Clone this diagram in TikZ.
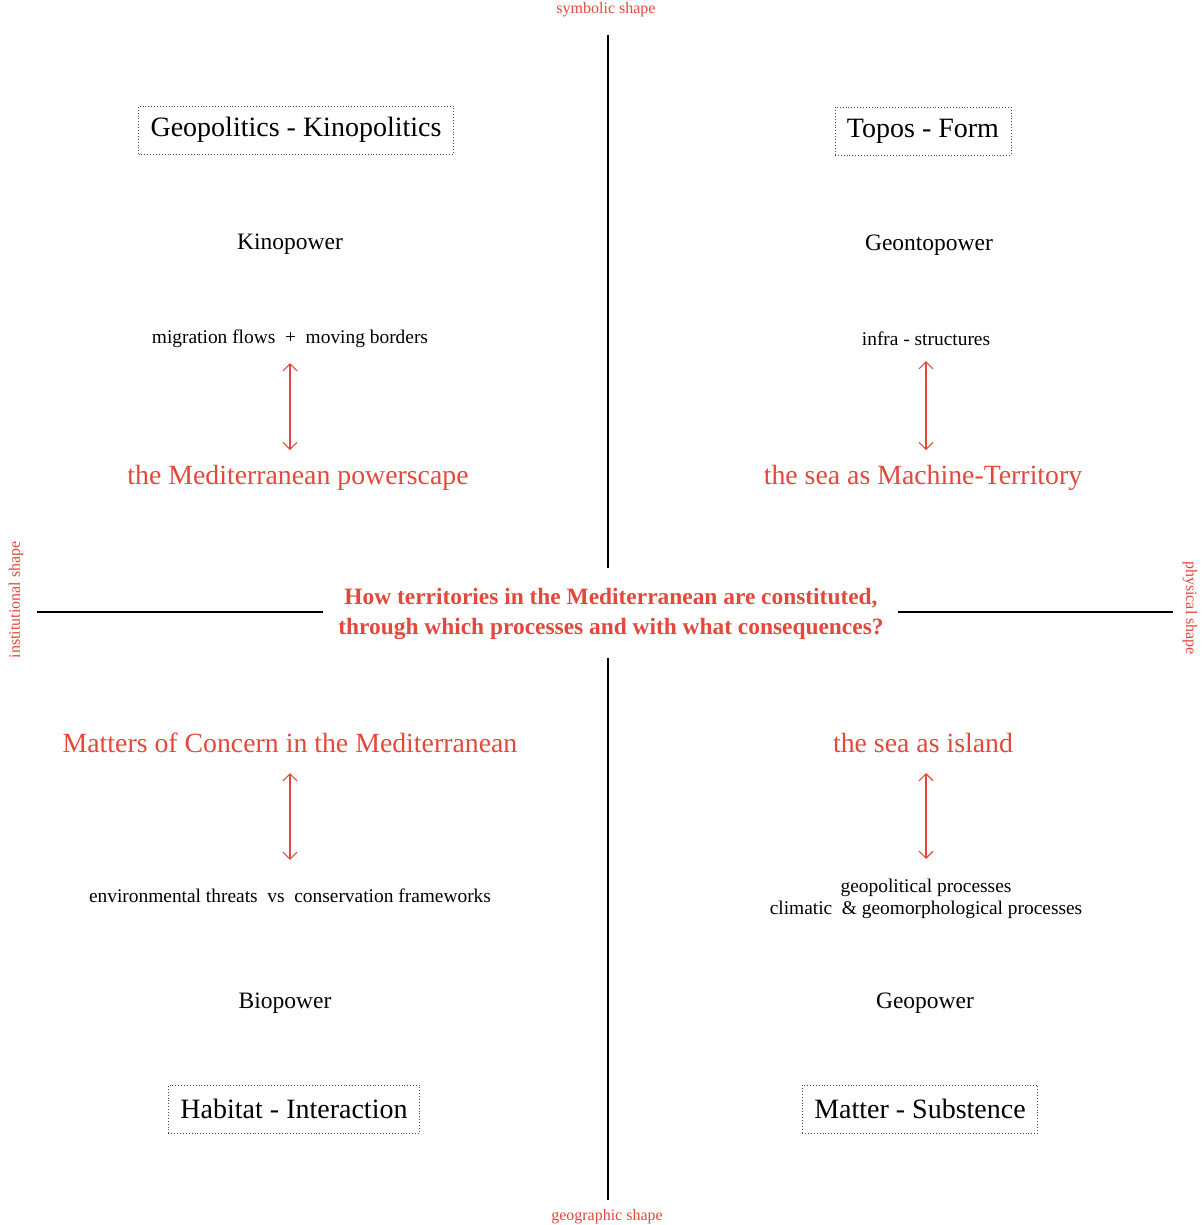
\documentclass[tikz,border=0pt]{standalone}
\usepackage{fontspec}
\setmainfont{Liberation Serif}
\usetikzlibrary{arrows.meta}
\definecolor{accentred}{HTML}{E2483B}
\definecolor{dotgray}{HTML}{4A4A4A}

\begin{document}
\begin{tikzpicture}[x=1pt, y=-1pt,
    titlebox/.style={draw=dotgray, dotted, line width=0.9pt, inner xsep=12pt, minimum height=48pt, font=\fontsize{28}{30}\selectfont},
    power/.style={inner sep=0pt, font=\fontsize{23.5}{26}\selectfont},
    detail/.style={inner sep=0pt, align=center, font=\fontsize{19.4}{22}\selectfont},
    scape/.style={inner sep=0pt, text=accentred, font=\fontsize{27.8}{30}\selectfont},
    axislabel/.style={inner sep=0pt, text=accentred, font=\fontsize{16}{18}\selectfont},
    link/.style={draw=accentred, line width=1.1pt, {Straight Barb[length=7pt,width=14pt]}-{Straight Barb[length=7pt,width=14pt]}},
    axisline/.style={line width=1.8pt, black}]
  \useasboundingbox (0,0) rectangle (1203,1225);
  % axes
  \coordinate (ntop) at (608,35);
  \coordinate (nbot) at (608,568);
  \coordinate (stop) at (608,658);
  \coordinate (sbot) at (608,1200);
  \coordinate (wl) at (37,612);
  \coordinate (wr) at (323,612);
  \coordinate (el) at (898,612);
  \coordinate (er) at (1173,612);
  \draw[axisline] (ntop) -- (nbot);
  \draw[axisline] (stop) -- (sbot);
  \draw[axisline] (wl) -- (wr);
  \draw[axisline] (el) -- (er);
  \node[axislabel] (symb) at (606,10) {symbolic shape};
  \node[axislabel] (geog) at (607,1217) {geographic shape};
  \node[axislabel, rotate=90] (inst) at (16,600) {institutional shape};
  \node[axislabel, rotate=-90] (phys) at (1190,608) {physical shape};
  \node[text=accentred, align=center, font=\bfseries\fontsize{23.4}{30}\selectfont] (question) at (611,614)
    {How territories in the Mediterranean are constituted,\\through which processes and with what consequences?};
  % top left
  \node[titlebox] (geopol) at (296,130) {Geopolitics - Kinopolitics};
  \node[power] (kino) at (290,244) {Kinopower};
  \node[detail] (flows) at (290,339) {migration flows~~+~~moving borders};
  \node[scape] (powerscape) at (298,478) {the Mediterranean powerscape};
  \draw[link, shorten <=15pt, shorten >=15pt] (flows.south) -- (flows.south |- powerscape.north);
  % top right
  \node[titlebox] (topos) at (923,131) {Topos - Form};
  \node[power] (geonto) at (929,245) {Geontopower};
  \node[detail] (infra) at (926,339) {infra - structures};
  \node[scape] (machine) at (923,478) {the sea as Machine-Territory};
  \draw[link, shorten <=15pt, shorten >=15pt] (infra.south) -- (infra.south |- machine.north);
  % bottom left
  \node[scape] (concern) at (290,743) {Matters of Concern in the Mediterranean};
  \node[detail] (threats) at (290,896) {environmental threats~~vs~~conservation frameworks};
  \node[power] (bio) at (285,1003) {Biopower};
  \node[titlebox] (habitat) at (294,1109) {Habitat - Interaction};
  \draw[link, shorten <=20pt, shorten >=29pt] (concern.south) -- (concern.south |- threats.north);
  % bottom right
  \node[scape] (island) at (923,743) {the sea as island};
  \node[detail] (processes) at (926,899) {geopolitical processes\\climatic~~\&~geomorphological processes};
  \node[power] (geo) at (925,1003) {Geopower};
  \node[titlebox] (matter) at (920,1109) {Matter - Substence};
  \draw[link, shorten <=20pt, shorten >=20pt] (processes.north |- island.south) -- (processes.north);
\end{tikzpicture}
\end{document}
